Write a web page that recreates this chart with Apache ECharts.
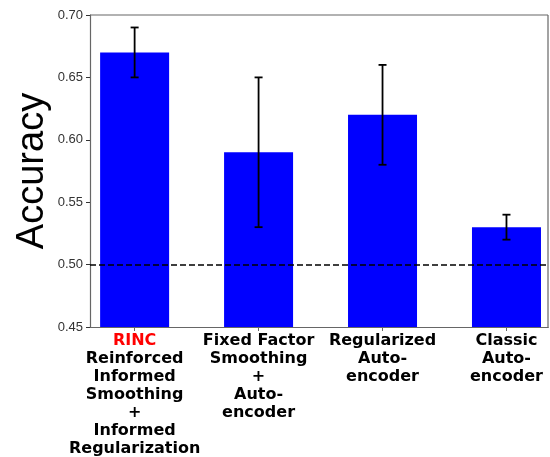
<!DOCTYPE html>
<html>
<head>
<meta charset="utf-8">
<script src="https://cdn.jsdelivr.net/npm/echarts@6/dist/echarts.min.js"></script>
<style>
  html, body { margin: 0; padding: 0; background: #fff; }
  #chart { width: 550px; height: 457px; }
</style>
</head>
<body>
<div id="chart"></div>
<script>
// data
const categories = [
  ['RINC', 'Reinforced', 'Informed', 'Smoothing', '+', 'Informed', 'Regularization'],
  ['Fixed Factor', 'Smoothing', '+', 'Auto-', 'encoder'],
  ['Regularized', 'Auto-', 'encoder'],
  ['Classic', 'Auto-', 'encoder']
]
const accuracy = [0.67, 0.59, 0.62, 0.53]
const errLow = [0.65, 0.53, 0.58, 0.52]
const errHigh = [0.69, 0.65, 0.66, 0.54]
const chanceLevel = 0.5

const chart = echarts.init(document.getElementById('chart'))

const positions = categories.map((c, i) => i)

const labelStyle = {
  fontFamily: 'DejaVu Sans',
  fontWeight: 'bold',
  fontSize: 16,
  lineHeight: 18,
  align: 'center'
}

const option = {
  animation: false,
  grid: { left: 90, right: 2, top: 15, bottom: 129 },
  xAxis: {
    type: 'value',
    min: -0.36,
    max: 3.335,
    splitLine: { show: false },
    axisLine: { show: true, onZero: false, lineStyle: { color: '#666', width: 1.2 } },
    axisTick: {
      show: true,
      customValues: positions,
      length: 4,
      lineStyle: { color: '#666' }
    },
    axisLabel: {
      customValues: positions,
      margin: 5,
      formatter: (v) => {
        const i = Math.round(v)
        const lines = categories[i]
        if (i === 0) {
          return '{red|' + lines[0] + '}\n' + lines.slice(1).map(l => '{b|' + l + '}').join('\n')
        }
        return lines.map(l => '{b|' + l + '}').join('\n')
      },
      rich: {
        red: Object.assign({ color: '#ff0000' }, labelStyle),
        b: Object.assign({ color: '#000' }, labelStyle)
      }
    }
  },
  yAxis: {
    type: 'value',
    min: 0.45,
    max: 0.70,
    interval: 0.05,
    name: 'Accuracy',
    nameLocation: 'middle',
    nameRotate: 90,
    nameGap: 38,
    nameMoveOverlap: false,
    nameTextStyle: {
      fontFamily: 'Liberation Sans',
      fontSize: 38,
      color: '#000'
    },
    splitLine: { show: false },
    axisLine: { show: true, onZero: false, lineStyle: { color: '#666', width: 1.2 } },
    axisTick: { show: true, length: 4, lineStyle: { color: '#333' } },
    axisLabel: {
      margin: 7,
      fontFamily: 'Liberation Sans',
      fontSize: 13,
      color: '#333',
      formatter: (v) => v.toFixed(2)
    }
  },
  series: [
    {
      type: 'bar',
      data: accuracy.map((v, i) => [positions[i], v]),
      barWidth: 69,
      itemStyle: { color: '#0000ff' },
      markLine: {
        silent: true,
        symbol: 'none',
        label: { show: false },
        lineStyle: { color: '#000', type: [6, 3], width: 1.5 },
        data: [{ yAxis: chanceLevel }]
      }
    },
    {
      type: 'custom',
      data: positions.map((p, i) => [p, errLow[i], errHigh[i]]),
      renderItem: (params, api) => {
        const lo = api.coord([api.value(0), api.value(1)])
        const hi = api.coord([api.value(0), api.value(2)])
        const cap = 4
        const style = { stroke: '#000', lineWidth: 1.8 }
        return {
          type: 'group',
          children: [
            { type: 'line', shape: { x1: lo[0], y1: lo[1], x2: hi[0], y2: hi[1] }, style },
            { type: 'line', shape: { x1: hi[0] - cap, y1: hi[1], x2: hi[0] + cap, y2: hi[1] }, style },
            { type: 'line', shape: { x1: lo[0] - cap, y1: lo[1], x2: lo[0] + cap, y2: lo[1] }, style }
          ]
        }
      },
      z: 10
    }
  ],
  // frame on top and right like the original
  graphic: [
    { type: 'line', shape: { x1: 90, y1: 15, x2: 548, y2: 15 }, style: { stroke: '#666', lineWidth: 1.2 } },
    { type: 'line', shape: { x1: 548, y1: 15, x2: 548, y2: 328 }, style: { stroke: '#666', lineWidth: 1.2 } }
  ]
}

chart.setOption(option)
</script>
</body>
</html>
